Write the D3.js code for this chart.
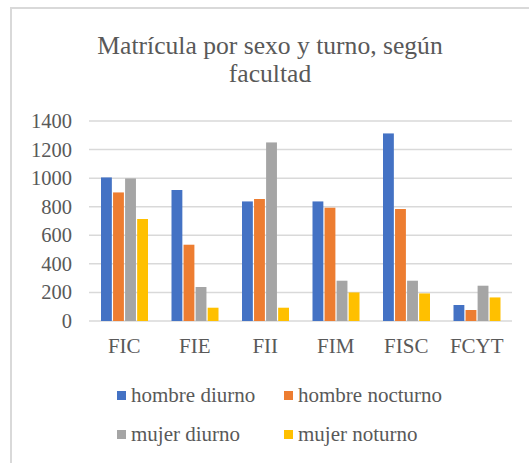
<!DOCTYPE html>
<html>
<head>
<meta charset="utf-8">
<script src="https://cdn.jsdelivr.net/npm/d3@7"></script>
<style>
html,body{margin:0;padding:0;background:#fff;}
svg{display:block;}
</style>
</head>
<body>
<svg id="chart" width="529" height="463"></svg>
<script>
const title = ["Matrícula por sexo y turno, según", "facultad"];
const categories = ["FIC", "FIE", "FII", "FIM", "FISC", "FCYT"];
const seriesNames = ["hombre diurno", "hombre nocturno", "mujer diurno", "mujer noturno"];
const hombreDiurno   = [1005, 917, 837, 837, 1313, 112];
const hombreNocturno = [900, 534, 854, 793, 784, 77];
const mujerDiurno    = [998, 238, 1250, 282, 282, 247];
const mujerNocturno  = [714, 93, 93, 200, 193, 165];
const yTicks = [0, 200, 400, 600, 800, 1000, 1200, 1400];
const colors = ["#4472C4", "#ED7D31", "#A5A5A5", "#FFC000"];

const seriesValues = [hombreDiurno, hombreNocturno, mujerDiurno, mujerNocturno];
const svg = d3.select("#chart");
const serif = "'Liberation Serif', serif";
const textColor = "#595959";

// frame
svg.append("rect").attr("x", 11).attr("y", 8).attr("width", 530).attr("height", 470)
  .attr("fill", "#fff").attr("stroke", "#d9d9d9").attr("stroke-width", 2);

// title
svg.selectAll("text.title").data(title).join("text").attr("class", "title")
  .attr("x", 270).attr("y", (d, i) => 54 + i * 28).attr("text-anchor", "middle")
  .style("font-family", serif).attr("font-size", 25.6).attr("fill", textColor).text(d => d);

const y = d3.scaleLinear().domain([0, 1400]).range([321, 121]);
const x0 = d3.scaleBand().domain(categories).range([89, 512]).padding(0);
const x1 = d3.scaleBand().domain(seriesNames).range([12, 59]).paddingInner(0.1);

// gridlines
svg.append("g").selectAll("line").data(yTicks).join("line")
  .attr("x1", 89).attr("x2", 512)
  .attr("y1", d => y(d)).attr("y2", d => y(d))
  .attr("stroke", "#d9d9d9").attr("stroke-width", 1.5);

// y axis
const yAxis = d3.axisLeft(y).tickValues(yTicks).tickFormat(d3.format("d")).tickSize(0).tickPadding(0);
const yg = svg.append("g").attr("transform", "translate(72,0)").call(yAxis)
  .attr("font-family", null).attr("font-size", null);
yg.select(".domain").remove();
yg.selectAll("text").style("font-family", serif).attr("font-size", 20.5).attr("fill", textColor);

// bars
const groups = svg.append("g").selectAll("g").data(categories).join("g")
  .attr("transform", d => `translate(${x0(d)},0)`);
groups.selectAll("rect")
  .data((c, i) => seriesNames.map((s, j) => ({s, v: seriesValues[j][i], j})))
  .join("rect")
  .attr("x", d => x1(d.s))
  .attr("width", x1.bandwidth())
  .attr("y", d => y(d.v))
  .attr("height", d => y(0) - y(d.v))
  .attr("fill", d => colors[d.j]);

// x axis labels
const xAxis = d3.axisBottom(x0).tickSize(0).tickPadding(0);
const xg = svg.append("g").attr("transform", "translate(0,338)").call(xAxis)
  .attr("font-family", null).attr("font-size", null);
xg.select(".domain").remove();
xg.selectAll("text").style("font-family", serif).attr("font-size", 21).attr("fill", textColor);

// legend
const legendPos = [[117, 391], [284, 391], [117, 430], [284, 430]];
const lg = svg.append("g").selectAll("g").data(seriesNames).join("g")
  .attr("transform", (d, i) => `translate(${legendPos[i][0]},${legendPos[i][1]})`);
lg.append("rect").attr("width", 9).attr("height", 9).attr("fill", (d, i) => colors[i]);
lg.append("text").attr("x", 14).attr("y", 11)
  .style("font-family", serif).attr("font-size", 21).attr("fill", textColor).text(d => d);
</script>
</body>
</html>
